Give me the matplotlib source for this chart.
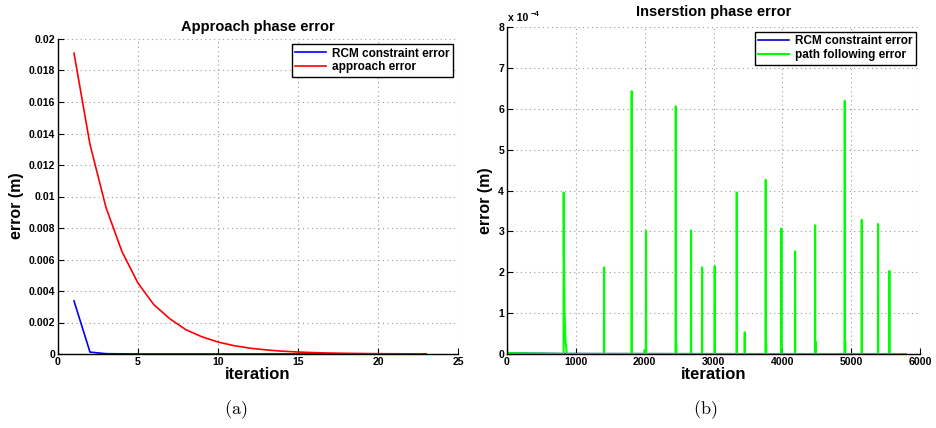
import numpy as np
import matplotlib
matplotlib.use("Agg")
import matplotlib.pyplot as plt

# ---------------- data ----------------
# (a) approach phase
appr_iter = list(range(1, 24))
appr_err = [0.0191, 0.0133, 0.0093, 0.0065, 0.0045, 0.00312, 0.00223, 0.00154,
            0.00109, 0.00076, 0.00053, 0.00037, 0.00026, 0.00018, 0.000125,
            0.000087, 0.00006, 0.000042, 0.00003, 0.00002, 0.000014, 0.00001,
            0.000007]
rcm_a_err = [0.00337, 0.00012, 0.00002, 0.00001] + [0.0] * 19

# (b) insertion phase (values in units of 1e-4 m)
spike_iters = [823, 1409, 1811, 2019, 2451, 2673, 2833, 3017, 3337, 3453,
               3758, 3985, 4184, 4475, 4906, 5153, 5390, 5554]
spike_heights = [3.95, 2.12, 6.43, 3.01, 6.06, 3.02, 2.12, 2.15, 3.95, 0.53,
                 4.26, 3.07, 2.51, 3.15, 6.19, 3.28, 3.18, 2.03]
tail_iters = [826, 836, 850, 870]
tail_vals = [2.6, 1.0, 0.3, 0.0]
bump_iters = [2000, 2458, 3765, 4482, 4913]
bump_vals = [0.10, 0.25, 0.25, 0.30, 0.30]
base_iters = [0, 20, 5800]
base_vals = [0.06, 0.02, 0.0]
rcm_b_iters = [0, 10, 800, 5800]
rcm_b_vals = [0.05, 0.02, 0.01, 0.0]

# build green polyline from the read values
verts = list(zip(base_iters, base_vals))
for i, h in zip(spike_iters, spike_heights):
    verts += [(i - 1, 0.0), (i, h), (i + 2, h)]
    if i != spike_iters[0]:
        verts.append((i + 3, 0.0))
verts += list(zip(tail_iters, tail_vals))
for b, v in zip(bump_iters, bump_vals):
    verts += [(b - 1, 0.0), (b, v), (b + 1, 0.0)]
verts.sort(key=lambda p: p[0])
path_x = [p[0] for p in verts]
path_y = [p[1] for p in verts]

# ---------------- figure ----------------
plt.rcParams['font.family'] = ['Liberation Sans', 'DejaVu Sans']
plt.rcParams['mathtext.fontset'] = 'cm'
fig = plt.figure(figsize=(9.36, 4.28), dpi=100)

W, H = 936, 428
def pos(x0, x1, ytop, ybot):
    return [x0 / W, 1 - ybot / H, (x1 - x0) / W, (ybot - ytop) / H]

ax1 = fig.add_axes(pos(58, 458, 39, 354))
ax2 = fig.add_axes(pos(507, 920, 27, 354))

def style(ax):
    for s in ['top', 'right']:
        ax.spines[s].set_visible(False)
    for s in ['left', 'bottom']:
        ax.spines[s].set_linewidth(1.0)
    ax.tick_params(direction='in', length=4, width=0.8, labelsize=7.6, pad=2)
    for lab in ax.get_xticklabels() + ax.get_yticklabels():
        lab.set_fontweight('bold')
    ax.grid(True, linestyle=(0, (1, 3)), color='#9a9a9a', linewidth=0.8)
    ax.set_axisbelow(True)

# (a)
ax1.plot(appr_iter, rcm_a_err, color='#0000ff', lw=1.2, label='RCM constraint error')
ax1.plot(appr_iter, appr_err, color='#ff0000', lw=1.2, label='approach error')
ax1.set_xlim(0, 25)
ax1.set_ylim(0, 0.02)
ax1.set_xticks([0, 5, 10, 15, 20, 25])
ax1.set_yticks(np.arange(0, 0.0201, 0.002))
ax1.set_yticklabels(['0', '0.002', '0.004', '0.006', '0.008', '0.01', '0.012',
                     '0.014', '0.016', '0.018', '0.02'])
style(ax1)
ax1.set_title('Approach phase error', fontsize=10.5, fontweight='bold', pad=6)
ax1.set_xlabel('iteration', fontsize=12, fontweight='bold', labelpad=0)
ax1.set_ylabel('error (m)', fontsize=11.5, fontweight='bold')
ax1.yaxis.set_label_coords(-0.085, 0.47)
leg1 = ax1.legend(loc='upper right', bbox_to_anchor=(0.9875, 0.984),
                  borderaxespad=0, fancybox=False, framealpha=1,
                  edgecolor='black', prop={'weight': 'bold', 'size': 8.5},
                  handlelength=2.6, handletextpad=0.5, borderpad=0.3,
                  labelspacing=0.15)
leg1.get_frame().set_linewidth(1.0)

# (b)
ax2.plot(rcm_b_iters, rcm_b_vals, color='#0000c8', lw=1.2, label='RCM constraint error')
ax2.plot(path_x, path_y, color='#00ff00', lw=1.5, label='path following error')
ax2.set_xlim(0, 6000)
ax2.set_ylim(0, 8)
ax2.set_xticks(np.arange(0, 6001, 1000))
ax2.set_yticks(np.arange(0, 9, 1))
style(ax2)
ax2.set_title('Inserstion phase error', fontsize=10.5, fontweight='bold', pad=8)
ax2.set_xlabel('iteration', fontsize=12, fontweight='bold', labelpad=0)
ax2.set_ylabel('error (m)', fontsize=11.5, fontweight='bold')
ax2.yaxis.set_label_coords(-0.035, 0.47)
ax2.text(0.003, 1.012, 'x 10', transform=ax2.transAxes, fontsize=7.6,
         fontweight='bold', ha='left', va='bottom')
ax2.text(0.058, 1.028, '\u22124', transform=ax2.transAxes, fontsize=5.5,
         fontweight='bold', ha='left', va='bottom')
leg2 = ax2.legend(loc='upper right', bbox_to_anchor=(0.99, 0.985),
                  borderaxespad=0, fancybox=False, framealpha=1,
                  edgecolor='black', prop={'weight': 'bold', 'size': 8.5},
                  handlelength=2.6, handletextpad=0.5, borderpad=0.3,
                  labelspacing=0.15)
leg2.get_frame().set_linewidth(1.0)

# captions
fig.text(236 / W, 1 - 410 / H, r'$\mathrm{(a)}$', fontsize=13, ha='center', va='center')
fig.text(705 / W, 1 - 410 / H, r'$\mathrm{(b)}$', fontsize=13, ha='center', va='center')

fig.savefig('out.png', dpi=100)
